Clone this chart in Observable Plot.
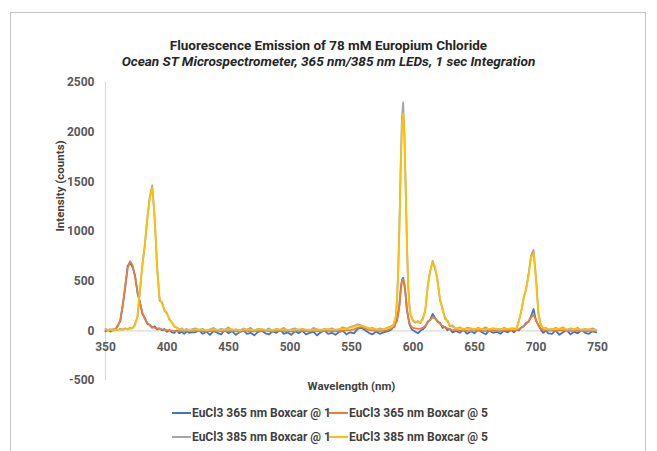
<!DOCTYPE html>
<html>
<head>
<meta charset="utf-8">
<script src="https://cdn.jsdelivr.net/npm/d3@7"></script>
<script src="https://cdn.jsdelivr.net/npm/@observablehq/plot@0.6"></script>
<style>
  html, body { margin: 0; padding: 0; background: #fff; }
  #wrap { position: relative; width: 657px; height: 451px; overflow: hidden; font-family: Roboto, "Noto Sans", sans-serif; }
  #frame { position: absolute; left: 10px; top: 12px; width: 636px; height: 470px; border: 1.5px solid #c4c4c4; box-sizing: border-box; }
  #title { position: absolute; left: 0; width: 657px; top: 37px; text-align: center; font-size: 13.5px; font-weight: bold; color: #262626; }
  #subtitle { position: absolute; left: 0; width: 657px; top: 53px; text-align: center; font-size: 13.6px; font-weight: bold; font-style: italic; color: #262626; }
  #chart { position: absolute; left: 0; top: 0; }
  .leg { position: absolute; font-size: 12px; font-weight: bold; color: #404040; white-space: nowrap; display: flex; align-items: center; }
  .leg span.sw { display: inline-block; width: 19px; height: 2px; margin-right: 1px; }
</style>
</head>
<body>
<div id="wrap">
  <div id="frame"></div>
  <div id="title">Fluorescence Emission of 78 mM Europium Chloride</div>
  <div id="subtitle">Ocean ST Microspectrometer, 365 nm/385 nm LEDs, 1 sec Integration</div>
  <div id="chart"></div>
  <div id="legend"></div>
</div>
<script>
// ---- Data ----
const seriesNames = ["EuCl3 365 nm Boxcar @ 1", "EuCl3 365 nm Boxcar @ 5", "EuCl3 385 nm Boxcar @ 1", "EuCl3 385 nm Boxcar @ 5"];
const seriesColors = ["#4472C4", "#ED7D31", "#A5A5A5", "#FFC000"];
const xTicks = [350, 400, 450, 500, 550, 600, 650, 700, 750];
const yTicks = [-500, 0, 500, 1000, 1500, 2000, 2500];

const wavelength = [
  350,352,354,356,358,360,362,364,366,368,370,372,374,376,378,380,382,384,386,388,390,392,394,396,398,400,402,404,406,408,410,412,414,416,418,420,
  423,426,429,432,435,438,441,444,447,450,453,456,459,462,465,468,471,474,477,480,483,486,489,492,495,498,501,504,507,510,513,516,519,522,525,528,531,534,537,540,543,546,549,552,555,558,561,564,567,570,573,576,579,582,
  583,584,585,586,587,588,589,590,591,592,593,594,595,596,597,598,599,600,
  602,604,606,608,610,612,614,616,618,620,622,624,626,628,630,632,
  635,638,641,644,647,650,653,656,659,662,665,668,671,674,677,680,
  682,684,686,688,690,692,694,696,698,700,702,704,706,708,710,
  713,716,719,722,725,728,731,734,737,740,743,746,749
];

// EuCl3 365 nm Boxcar @ 1 (blue)
const eu365b1 = [
  -5,12,-8,15,10,55,95,260,430,650,690,640,560,380,290,170,130,70,60,30,45,15,25,5,18,-10,8,-15,-20,5,-25,-10,-30,-5,-20,-15,
  -15,5,-30,-10,-40,0,-20,-35,10,-25,-5,-40,-15,5,-30,-20,-45,-10,0,-25,-35,-5,-20,10,-30,-15,-40,-5,-25,0,-35,-20,-10,-45,-15,5,-30,-20,-40,-10,0,-35,-15,-25,20,30,5,-20,-35,-10,-30,-15,-5,10,
  20,45,40,90,100,180,260,420,510,535,460,370,210,150,70,40,15,5,
  -10,-25,0,15,40,95,110,170,130,90,80,30,40,5,20,-15,
  0,-20,10,-30,-5,-25,15,-15,-35,5,-20,-10,-30,0,-15,10,
  -15,10,5,35,45,80,90,150,220,100,60,10,-20,5,-25,
  -30,5,-40,-15,10,-35,-10,-25,5,-20,-30,-5,-15
];

// EuCl3 365 nm Boxcar @ 5 (orange)
const eu365b5 = [
  5,8,6,10,20,45,110,250,450,630,700,660,540,400,280,185,120,80,55,40,30,25,20,14,10,6,4,2,0,-2,-3,-2,0,2,1,3,
  2,0,-3,-5,-2,0,3,-4,-6,-2,0,-5,-3,2,-1,-4,-6,-3,0,2,-2,-4,-1,3,0,-3,-5,-2,0,1,-4,-2,0,-5,-3,2,0,-2,-4,-1,3,5,8,15,30,40,25,10,4,0,-3,2,8,20,
  30,40,55,75,110,170,270,400,500,520,470,360,230,140,85,55,40,30,
  25,20,22,30,50,85,115,135,125,100,70,50,35,25,15,10,
  8,5,3,0,-2,2,5,0,-3,2,4,0,-2,3,5,8,
  5,8,15,30,50,70,95,135,160,110,50,20,10,5,3,
  2,0,4,6,3,0,-2,2,0,-3,1,3,0
];

// EuCl3 385 nm Boxcar @ 1 (gray)
const eu385b1 = [
  20,5,18,0,15,8,20,12,25,15,30,25,70,140,400,670,860,1140,1350,1465,1120,640,300,290,200,180,110,85,40,35,10,25,5,20,0,15,
  25,5,20,-5,15,30,0,20,10,35,5,15,-10,25,10,30,0,20,15,5,25,-5,20,10,30,0,15,25,5,20,10,-5,30,15,0,20,10,25,5,15,35,20,40,50,65,55,40,20,30,10,25,15,30,45,
  55,50,100,140,320,620,1100,1680,2150,2300,2000,1480,920,470,280,160,140,100,
  80,100,75,130,200,460,600,705,620,510,300,230,120,105,45,55,
  20,35,10,30,25,5,30,15,35,10,25,20,5,30,15,25,
  25,15,100,190,340,420,580,760,815,540,160,60,20,30,10,
  10,30,15,35,5,25,15,30,0,20,10,25,5
];

// EuCl3 385 nm Boxcar @ 5 (yellow)
const eu385b5 = [
  15,10,12,8,10,12,10,15,18,20,20,30,55,150,420,650,880,1120,1330,1440,1140,620,330,270,210,170,120,80,50,30,20,15,12,10,12,10,
  12,14,10,8,12,15,13,10,12,16,14,10,9,13,15,12,10,14,16,12,10,11,14,13,15,12,10,13,15,14,12,11,13,15,12,14,16,13,15,18,22,25,32,42,55,52,40,28,20,15,14,16,22,38,
  45,60,90,150,300,600,1050,1600,2050,2190,1950,1450,900,480,260,170,130,110,
  90,85,90,110,220,440,610,690,640,490,320,210,140,95,60,40,
  30,25,22,20,18,20,22,18,16,20,22,18,20,17,19,22,
  18,20,90,200,320,430,560,740,780,520,180,50,25,20,18,
  20,18,22,25,18,15,20,17,14,18,15,12,10
];

const series = [eu365b1, eu365b5, eu385b1, eu385b5];

// ---- Chart ----
const lineMarks = series.map((s, k) =>
  Plot.line(s, {x: (d, i) => wavelength[i], y: d => d, stroke: seriesColors[k], strokeWidth: 1.8, strokeLinejoin: "round"})
);

const chart = Plot.plot({
  width: 657,
  height: 451,
  marginLeft: 105,
  marginRight: 60,
  marginTop: 82,
  marginBottom: 71,
  style: {fontFamily: "Roboto, 'Noto Sans', sans-serif", fontSize: "12px", fontWeight: "bold", color: "#595959", background: "transparent", overflow: "visible"},
  x: {domain: [350, 750], axis: null},
  y: {domain: [-500, 2500], axis: null},
  marks: [
    Plot.ruleX([350], {stroke: "#d9d9d9", strokeWidth: 1.2}),
    Plot.ruleY([0], {stroke: "#d9d9d9", strokeWidth: 1.2}),
    Plot.axisY({ticks: yTicks, tickSize: 0, tickPadding: 11, label: null, tickFormat: d => String(d), fill: "#595959"}),
    Plot.text(xTicks, {x: d => d, y: 0, dy: 16, text: d => String(d), fill: "#595959"}),
    Plot.text(["Intensity (counts)"], {frameAnchor: "left", rotate: -90, dx: -45, fill: "#404040", fontSize: 11.5}),
    Plot.text(["Wavelength (nm)"], {frameAnchor: "bottom", dy: 9, fill: "#404040", fontSize: 11.5}),
    ...lineMarks
  ]
});
document.getElementById("chart").appendChild(chart);

// ---- Legend (HTML) ----
const legend = document.getElementById("legend");
const legPos = [[172, 406], [329, 406], [172, 430], [329, 430]];
seriesNames.forEach((name, k) => {
  const el = document.createElement("div");
  el.className = "leg";
  el.style.left = legPos[k][0] + "px";
  el.style.top = legPos[k][1] + "px";
  el.innerHTML = `<span class="sw" style="background:${seriesColors[k]}"></span>${name}`;
  legend.appendChild(el);
});
</script>
</body>
</html>
